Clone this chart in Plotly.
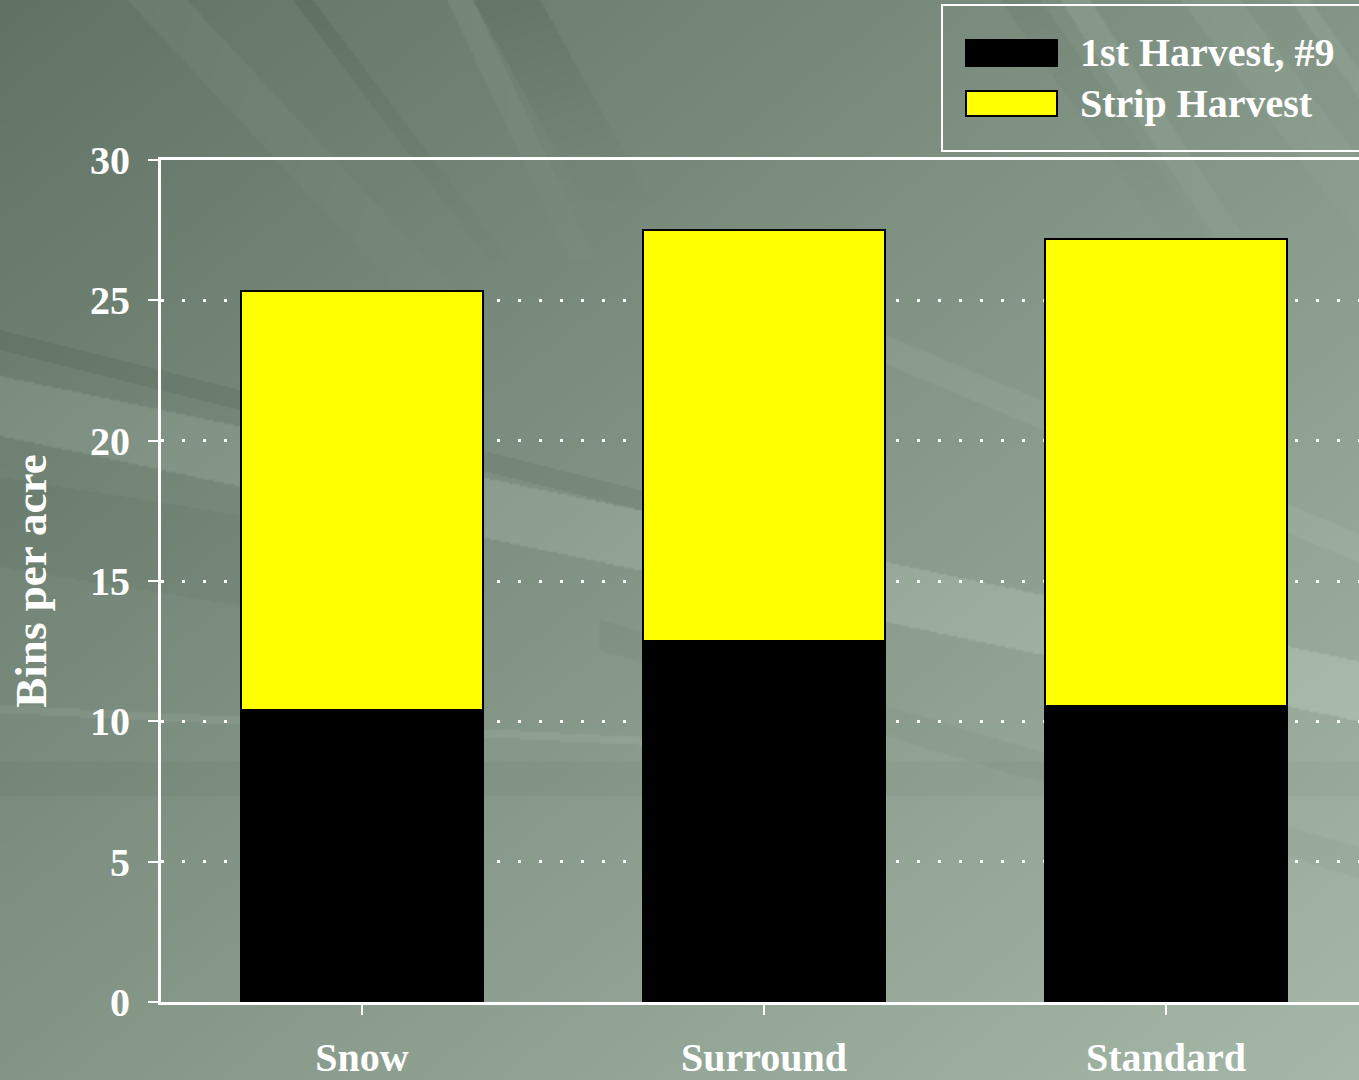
import base64
import struct
import zlib

import numpy as np
import plotly.graph_objects as go

# ---------------- data ----------------
categories = ["Snow", "Surround", "Standard"]
series_names = ["1st Harvest, #9", "Strip Harvest"]
first_harvest = [10.4, 12.85, 10.55]
strip_harvest = [14.95, 14.65, 16.65]
y_ticks = [0, 5, 10, 15, 20, 25, 30]

# ---------------- page geometry ----------------
W, H = 1359, 1080
ML, MR, MT, MB = 161, 0, 160, 78
PW, PH = W - ML - MR, H - MT - MB

FONT = "Liberation Serif"


def px_x(p):
    return (p - ML) / PW


def px_y(p):
    return (H - MB - p) / PH


# ---------------- background picture (decorative) ----------------
def make_background(w=680, h=540):
    xs = (np.arange(w) + 0.5) * W / w
    ys = (np.arange(h) + 0.5) * H / h
    X, Y = np.meshgrid(xs, ys)
    dark = np.array([96.0, 115.0, 100.0])
    light = np.array([166.0, 185.0, 169.0])
    t = np.clip(0.5 * Y / H + 0.5 * X / W, 0, 1)
    base = dark[None, None, :] + t[..., None] * (light - dark)[None, None, :]
    D = np.zeros_like(X)
    # steep streaks near the top: (x_left@y0, x_right@y0, dx/dy, ymax, delta)
    steep = [
        (127, 187, 0.93, 300, 7),
        (293, 313, 0.75, 260, -9),
        (447, 473, 0.47, 260, 8),
        (473, 540, 0.55, 200, -9),
        (1000, 1040, 0.70, 260, -6),
        (1060, 1090, 0.65, 300, 10),
        (1180, 1240, 0.75, 320, 6),
        (1290, 1310, 0.70, 330, 8),
    ]
    for xl0, xr0, s, ymax, d in steep:
        m = (X >= xl0 + s * Y) & (X < xr0 + s * Y) & (Y < ymax)
        fade = np.clip(1 - Y / ymax, 0.2, 1)
        D += d * m * fade
    # shallow rays: (y_top@x0, y_bot@x0, dy/dx, xmin, xmax, delta)
    shallow = [
        (376, 436, 0.21, 0, W, 14),
        (330, 350, 0.25, 0, 700, -8),
        (477, 567, 0.16, 0, 480, -5),
        (705, 713, 0.05, 0, 700, 8),
        (762, 797, 0.00, 0, W, -5),
        (-37, -8, 0.42, 700, W, 6),
        (440, 470, 0.30, 600, W, -5),
    ]
    for yt0, yb0, m_, xmin, xmax, d in shallow:
        m = (Y >= yt0 + m_ * X) & (Y < yb0 + m_ * X) & (X >= xmin) & (X < xmax)
        D += d * m
    rgb = np.clip(base + D[..., None], 0, 255).astype(np.uint8)
    raw = b"".join(b"\x00" + rgb[r].tobytes() for r in range(h))

    def chunk(tag, data):
        return (struct.pack(">I", len(data)) + tag + data
                + struct.pack(">I", zlib.crc32(tag + data) & 0xFFFFFFFF))

    png = (b"\x89PNG\r\n\x1a\n"
           + chunk(b"IHDR", struct.pack(">IIBBBBB", w, h, 8, 2, 0, 0, 0))
           + chunk(b"IDAT", zlib.compress(raw, 9))
           + chunk(b"IEND", b""))
    return "data:image/png;base64," + base64.b64encode(png).decode()


# ---------------- figure ----------------
fig = go.Figure()
fig.add_trace(go.Bar(
    x=categories, y=first_harvest, name=series_names[0],
    marker=dict(color="#000000", line=dict(color="#000000", width=2)),
    width=0.6, showlegend=False,
))
fig.add_trace(go.Bar(
    x=categories, y=strip_harvest, name=series_names[1],
    marker=dict(color="#FFFF00", line=dict(color="#000000", width=2)),
    width=0.6, showlegend=False,
))

tick_font = dict(family=FONT, size=40, color="white", weight="bold")

fig.update_layout(
    width=W, height=H,
    barmode="stack",
    margin=dict(l=ML, r=MR, t=MT, b=MB, autoexpand=False),
    paper_bgcolor="#7d9182",
    plot_bgcolor="rgba(0,0,0,0)",
    font=dict(family=FONT, color="white"),
    showlegend=False,
    xaxis=dict(
        range=[-0.5, 2.48],
        showline=True, linecolor="white", linewidth=3, mirror=True,
        ticks="outside", ticklen=10, tickwidth=2, tickcolor="white",
        tickfont=tick_font, ticklabelstandoff=8,
        showgrid=False, zeroline=False,
    ),
    yaxis=dict(
        range=[0, 30], tickvals=y_ticks,
        showline=True, linecolor="white", linewidth=3,
        ticks="outside", ticklen=10, tickwidth=2, tickcolor="white",
        tickfont=tick_font, ticklabelstandoff=10,
        showgrid=True, gridcolor="white", gridwidth=3, griddash="3px,18px",
        zeroline=False,
        title=dict(text="Bins per acre", standoff=30,
                   font=dict(family=FONT, size=45, color="white", weight="bold")),
    ),
    images=[dict(
        source=make_background(), xref="paper", yref="paper",
        x=px_x(0), y=px_y(0), sizex=W / PW, sizey=H / PH,
        xanchor="left", yanchor="top", sizing="stretch", layer="below",
    )],
)

# ---------------- legend (drawn box with swatches) ----------------
legend_colors = ["#000000", "#FFFF00"]
legend_rows_px = [(40, 66), (91, 116)]
shapes = [dict(
    type="rect", xref="paper", yref="paper",
    x0=px_x(942), x1=px_x(1372), y0=px_y(151), y1=px_y(5),
    line=dict(color="white", width=2), fillcolor="rgba(0,0,0,0)",
)]
for name, col, (top, bot) in zip(series_names, legend_colors, legend_rows_px):
    shapes.append(dict(
        type="rect", xref="paper", yref="paper",
        x0=px_x(966), x1=px_x(1057), y0=px_y(bot), y1=px_y(top),
        line=dict(color="#000000", width=2), fillcolor=col,
    ))
    fig.add_annotation(
        text=name, xref="paper", yref="paper",
        x=px_x(1078), y=px_y((top + bot) / 2), xanchor="left", yanchor="middle",
        showarrow=False,
        font=dict(family=FONT, size=40, color="white", weight="bold"),
    )
fig.update_layout(shapes=shapes)

fig.write_html(
    "out.html",
    config={"displayModeBar": False},
    post_script="document.body.style.margin='0';document.body.style.overflow='hidden';",
)
